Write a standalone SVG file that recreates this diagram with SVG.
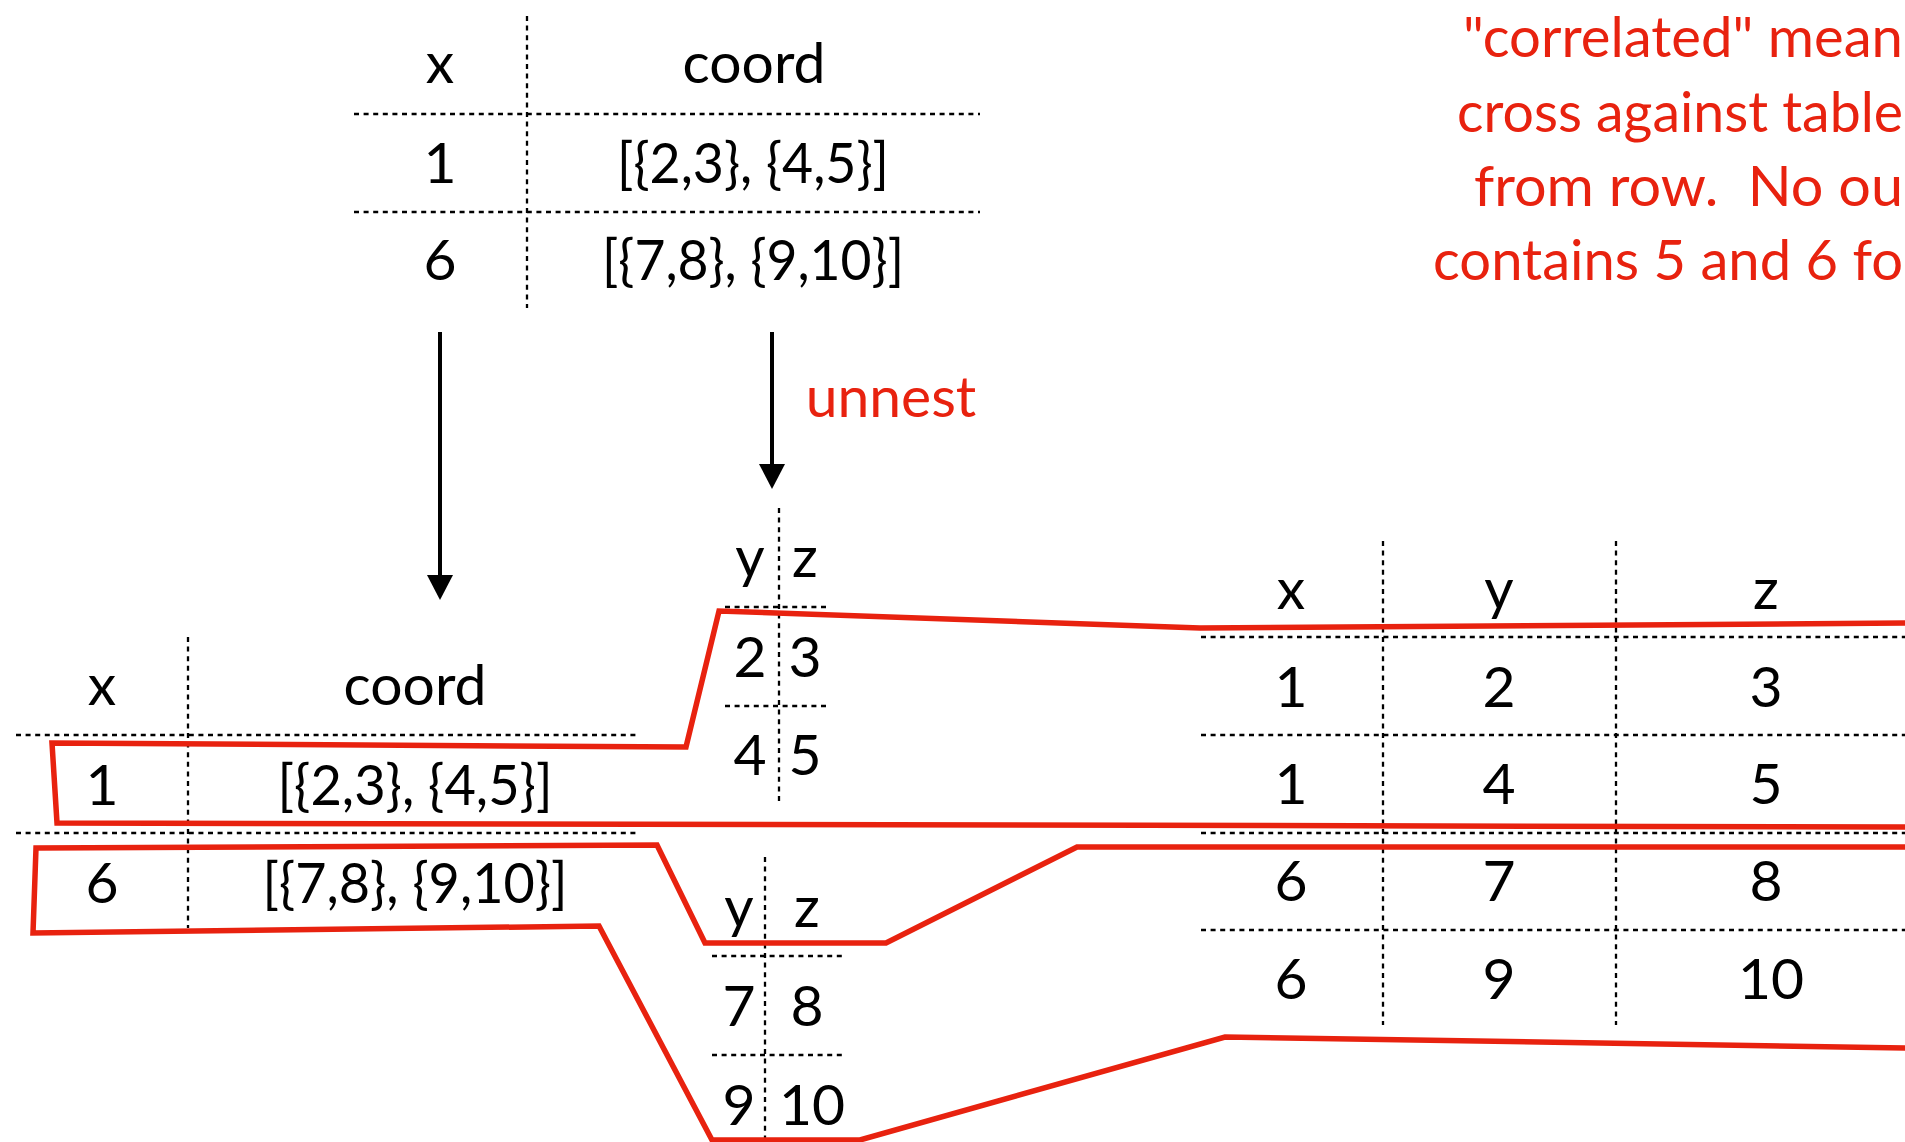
<svg xmlns="http://www.w3.org/2000/svg" width="1905" height="1142" viewBox="0 0 1905 1142">
<style>
text{font-family:Lato,"Liberation Sans",sans-serif;font-size:57px;fill:#000;text-anchor:middle}
.red{fill:#E8220F}
.note{text-anchor:start;white-space:pre}
.dash{stroke:#000;stroke-width:2.3;stroke-dasharray:5 4.6;fill:none}
.sel{stroke:#E8220F;stroke-width:5.5;fill:none;stroke-linejoin:miter}
.arr{stroke:#000;stroke-width:4;fill:none}
</style>
<defs>
<marker id="ah" markerUnits="userSpaceOnUse" markerWidth="25" markerHeight="26" viewBox="0 0 25 26" refX="0" refY="13" orient="auto"><path d="M0,0 L25,13 L0,26 z" fill="#000"/></marker>
</defs>
<rect width="1905" height="1142" fill="#fff"/>

<g id="input-table">
<path class="dash" d="M527,16V308M354,114H980M354,212H980"/>
<text x="440" y="83">x</text>
<text x="754" y="83">coord</text>
<text x="440" y="183">1</text>
<text x="753" y="183" textLength="272" lengthAdjust="spacingAndGlyphs">[{2,3}, {4,5}]</text>
<text x="440" y="280">6</text>
<text x="753" y="280" textLength="302" lengthAdjust="spacingAndGlyphs">[{7,8}, {9,10}]</text>
</g>

<g id="outer-table">
<path class="dash" d="M188,637V928M16,735H640M16,833H640"/>
<text x="102" y="705">x</text>
<text x="415" y="705">coord</text>
<text x="102" y="805">1</text>
<text x="415" y="805" textLength="275" lengthAdjust="spacingAndGlyphs">[{2,3}, {4,5}]</text>
<text x="102" y="903">6</text>
<text x="415" y="903" textLength="305" lengthAdjust="spacingAndGlyphs">[{7,8}, {9,10}]</text>
</g>

<g id="unnest-1">
<path class="dash" d="M779,508V802M725,607H827M725,706H827"/>
<text x="750" y="577">y</text>
<text x="805" y="577">z</text>
<text x="750" y="677">2</text>
<text x="805" y="677">3</text>
<text x="750" y="775">4</text>
<text x="805" y="775">5</text>
</g>

<g id="unnest-2">
<path class="dash" d="M765,857V1142M712,956H845M712,1055H845"/>
<text x="739" y="927">y</text>
<text x="807" y="927">z</text>
<text x="739" y="1026">7</text>
<text x="807" y="1026">8</text>
<text x="739" y="1125">9</text>
<text x="812" y="1125">10</text>
</g>

<g id="result-table">
<path class="dash" d="M1383,541V1025M1616,541V1025M1201,637H1905M1201,735H1905M1201,833H1905M1201,930H1905"/>
<text x="1291" y="609">x</text>
<text x="1499" y="609">y</text>
<text x="1766" y="609">z</text>
<text x="1291" y="707">1</text>
<text x="1499" y="707">2</text>
<text x="1766" y="707">3</text>
<text x="1291" y="804">1</text>
<text x="1499" y="804">4</text>
<text x="1766" y="804">5</text>
<text x="1291" y="901">6</text>
<text x="1499" y="901">7</text>
<text x="1766" y="901">8</text>
<text x="1291" y="999">6</text>
<text x="1499" y="999">9</text>
<text x="1771" y="999">10</text>
</g>

<g id="note">
<text class="red note" x="1463" y="57" textLength="440" lengthAdjust="spacingAndGlyphs">"correlated" mean</text>
<text class="red note" x="1457" y="132" textLength="446" lengthAdjust="spacingAndGlyphs">cross against table</text>
<text class="red note" x="1474" y="206" textLength="429" lengthAdjust="spacingAndGlyphs">from row.  No ou</text>
<text class="red note" x="1433" y="280" textLength="470" lengthAdjust="spacingAndGlyphs">contains 5 and 6 fo</text>
</g>

<g id="connectors">
<line class="arr" x1="440" y1="332" x2="440" y2="575" marker-end="url(#ah)"/>
<line class="arr" x1="772" y1="332" x2="772" y2="464" marker-end="url(#ah)"/>
<text class="red" x="891" y="417">unnest</text>
<polyline class="sel" points="1910,827 57,823 52,743 686,747 719,611 1200,628 1910,623"/>
<polyline class="sel" points="1910,847 1077,847 886,943 705,943 657,845 36,848 33,933 599,926 712,1140 860,1140 1225,1037 1910,1048"/>
</g>
</svg>
